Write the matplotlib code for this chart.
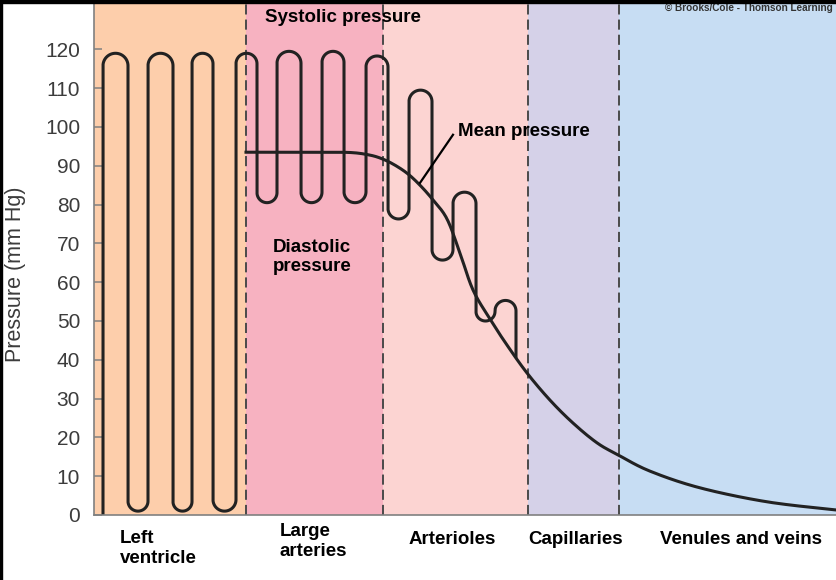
import numpy as np
import matplotlib
matplotlib.use("Agg")
import matplotlib.pyplot as plt
from matplotlib.patches import Rectangle

plt.rcParams['font.family'] = ['Liberation Sans', 'DejaVu Sans']

# ---------------- data ----------------
# vessel regions along the circulation (position units)
region_names = ["Left\nventricle", "Large\narteries", "Arterioles", "Capillaries", "Venules and veins"]
region_edges = [94, 246, 383, 528, 619, 836]
region_colors = ["#FDCEAB", "#F7B2C1", "#FCD4D2", "#D5D1E8", "#C7DDF3"]

# pulsatile pressure: positions of the vertical strokes and the pressure at each turn
pulse_x = [103, 128, 148, 173, 192, 213, 236, 257, 277, 301, 322, 344, 366, 388, 409, 432, 453, 476, 495, 516]
pulse_turns = [119, 1, 119, 1, 119, 1, 119, 80.5, 119.5, 80.5, 119.5, 80.5, 118.3, 76.3, 109.5, 65.7, 83.2, 50, 55.3]
pulse_start = 0
pulse_end = 40.5

# mean pressure curve
mean_x = [246, 300, 335, 352, 365, 378, 392, 407, 420, 433, 447, 460, 473, 490, 507, 527, 550, 573, 597, 618, 650, 700, 767, 836]
mean_p = [93.5, 93.5, 93.5, 93.4, 93.0, 92.2, 90.6, 88.1, 85.0, 81.2, 76.3, 67.5, 58.0, 50.5, 43.8, 36.6, 29.6, 23.7, 18.6, 15.5, 11.3, 7.0, 3.4, 1.3]

yticks = [0, 10, 20, 30, 40, 50, 60, 70, 80, 90, 100, 110, 120]

# ---------------- figure ----------------
W, H = 836, 580
fig = plt.figure(figsize=(W / 100, H / 100), dpi=100)
fig.patch.set_facecolor("white")
ax = fig.add_axes([94 / W, 65 / H, (W - 94) / W, (H - 65) / H])
px_per_unit = 3.88
ax.set_xlim(94, 836)
ax.set_ylim(0, 515 / px_per_unit)

# region backgrounds
for i in range(len(region_names)):
    ax.axvspan(region_edges[i], region_edges[i + 1], color=region_colors[i], lw=0, zorder=0)

# dashed boundaries
for xb in region_edges[1:-1]:
    ax.axvline(xb, color="#4a4a4a", lw=1.4, dashes=(5.2, 2.6), zorder=1)

# pulsatile waveform with rounded caps
xs = [pulse_x[0]]
ys = [pulse_start]
for i, p in enumerate(pulse_turns):
    xa, xb = pulse_x[i], pulse_x[i + 1]
    r = (xb - xa) / 2.0
    ry = r / px_per_unit
    c = (xa + xb) / 2.0
    if i % 2 == 0:
        t = np.linspace(np.pi, 0, 30)
        cy = p - ry
    else:
        t = np.linspace(np.pi, 2 * np.pi, 30)
        cy = p + ry
    xs.extend(c + r * np.cos(t))
    ys.extend(cy + ry * np.sin(t))
xs.append(pulse_x[-1])
ys.append(pulse_end)
ax.plot(xs, ys, color="#222222", lw=2.2, solid_capstyle="butt", solid_joinstyle="round", zorder=3, clip_on=False)

# mean pressure curve (Catmull-Rom through read points)
mx = np.array(mean_x, float)
my = np.array(mean_p, float)
P = np.column_stack([mx, my])
Pp = np.vstack([P[0], P, P[-1]])
cx, cyy = [], []
for k in range(1, len(Pp) - 2):
    p0, p1, p2, p3 = Pp[k - 1], Pp[k], Pp[k + 1], Pp[k + 2]
    for s in np.linspace(0, 1, 12, endpoint=False):
        q = 0.5 * ((2 * p1) + (-p0 + p2) * s + (2 * p0 - 5 * p1 + 4 * p2 - p3) * s ** 2 + (-p0 + 3 * p1 - 3 * p2 + p3) * s ** 3)
        cx.append(q[0]); cyy.append(q[1])
cx.append(P[-1, 0]); cyy.append(P[-1, 1])
ax.plot(cx, cyy, color="#222222", lw=2.2, zorder=4)

# pointer for mean pressure
ax.plot([420, 453], [85.6, 98.0], color="black", lw=1.6, zorder=5)

# annotations
bold = dict(fontsize=13.5, fontweight="bold", color="black")
ax.text(265, 128.3, "Systolic pressure", ha="left", va="center", **bold)
ax.text(273, 66.5, "Diastolic\npressure", ha="left", va="center", linespacing=1.2, **bold)
ax.text(458, 98.8, "Mean pressure", ha="left", va="center", **bold)

# region labels below the axis
label_x = [120, 280, 409, 528, 660]
label_y = [-8.7, -6.9, -6.4, -6.4, -6.4]
for name, lx, ly in zip(region_names, label_x, label_y):
    ax.text(lx, ly, name, ha="left", va="center", linespacing=1.2, clip_on=False, **bold)

# axes styling
for s in ["top", "right"]:
    ax.spines[s].set_visible(False)
for s in ["left", "bottom"]:
    ax.spines[s].set_color("#808080")
    ax.spines[s].set_linewidth(1.2)
    ax.spines[s].set_zorder(6)
ax.set_xticks([])
ax.set_yticks(yticks)
ax.set_yticklabels([str(v) for v in yticks])
ax.tick_params(axis="y", direction="in", length=5.5, width=1.1, color="#808080",
               labelsize=15, labelcolor="#3c3c3c", pad=10)

fig.text(16 / W, 1 - 274 / H, "Pressure (mm Hg)", rotation=90, ha="center", va="center",
         fontsize=15.5, color="#3c3c3c")

fig.text(833 / W, 1 - 8 / H, "\u00a9 Brooks/Cole - Thomson Learning", ha="right", va="center",
         fontsize=7.2, fontweight="bold", color="#333333")

# image border (top and left)
fig.add_artist(Rectangle((0, 1 - 3 / H), 1, 3 / H, transform=fig.transFigure, color="black", zorder=20))
fig.add_artist(Rectangle((0, 0), 2 / W, 1, transform=fig.transFigure, color="black", zorder=20))

fig.savefig("out.png", dpi=100)
